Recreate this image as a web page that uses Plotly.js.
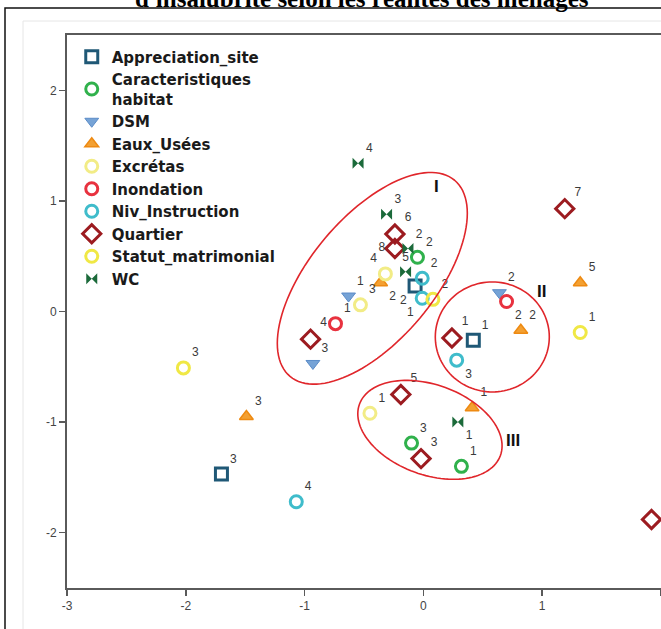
<!DOCTYPE html>
<html>
<head>
<meta charset="utf-8">
<script src="https://cdn.plot.ly/plotly-3.0.1.min.js"></script>
<style>html,body{margin:0;padding:0;background:#fff;}#chart{width:661px;height:629px;}</style>
</head>
<body>
<div id="chart"></div>
<script>
// ---- data ----
const appreciationX = [0.42, -0.07, -1.70];
const appreciationY = [-0.26, 0.23, -1.47];
const appreciationLbl = ["1", "2", "3"];

const habitatX = [-0.05, -0.10, 0.32];
const habitatY = [0.49, -1.19, -1.40];
const habitatLbl = ["2", "3", "1"];

const dsmX = [-0.63, -0.93, 0.64];
const dsmY = [0.14, -0.47, 0.17];
const dsmLbl = ["1", "3", "2"];

const eauxX = [-0.36, 0.82, 1.32, 0.41, -1.49];
const eauxY = [0.26, -0.17, 0.26, -0.87, -0.95];
const eauxLbl = ["2", "2", "5", "1", "3"];

const excretasX = [-0.32, -0.53, -0.45];
const excretasY = [0.34, 0.06, -0.92];
const excretasLbl = ["4", "3", "1"];

const inondationX = [-0.74, 0.70];
const inondationY = [-0.11, 0.09];
const inondationLbl = ["1", "2"];

const nivX = [-0.01, -0.01, 0.28, -1.07];
const nivY = [0.30, 0.12, -0.44, -1.72];
const nivLbl = ["2", "1", "3", "4"];

const quartierX = [-0.24, -0.24, -0.95, 0.24, -0.19, -0.02, 1.19, 1.92];
const quartierY = [0.70, 0.57, -0.25, -0.24, -0.75, -1.33, 0.93, -1.88];
const quartierLbl = ["6", "8", "4", "1", "5", "3", "7", "2"];

const statutX = [0.08, 1.32, -2.02];
const statutY = [0.11, -0.19, -0.51];
const statutLbl = ["2", "1", "3"];

const wcX = [-0.55, -0.31, -0.13, -0.15, 0.29];
const wcY = [1.34, 0.88, 0.57, 0.36, -1.00];
const wcLbl = ["4", "3", "2", "5", "1"];

const xTicks = [-3, -2, -1, 0, 1, 2];
const yTicks = [-2, -1, 0, 1, 2];

const groupNames = ["I", "II", "III"];
const groupLabelX = [0.11, 0.99, 0.75];
const groupLabelY = [1.13, 0.18, -1.17];

const titleText = "d'insalubrité selon les réalités des ménages";

// ---- styling / layout ----
const W = 661, H = 629;
const M = {l: 67, r: 0, t: 35, b: 41};
const xRange = [-3, 2], yRange = [-2.5, 2.5];
const kx = (W - M.l - M.r) / (xRange[1] - xRange[0]);
const ky = (H - M.t - M.b) / (yRange[1] - yRange[0]);

const labelFont = {family: "Arial, Liberation Sans, sans-serif", size: 12, color: "#3a3a3a"};

function series(name, xs, ys, lbl, marker, pos) {
  return {
    type: "scatter", mode: "markers+text", name: name,
    x: xs, y: ys, text: lbl, textposition: pos,
    textfont: labelFont, marker: marker, cliponaxis: false,
    hoverinfo: "name+text"
  };
}

const traces = [
  series("Appreciation_site", appreciationX, appreciationY, appreciationLbl,
    {symbol: "square-open", size: 12, color: "#1f5876", line: {width: 3}},
    ["top right", "bottom left", "top right"]),
  series("Caracteristiques<br>habitat", habitatX, habitatY, habitatLbl,
    {symbol: "circle-open", size: 12, color: "#30b14c", line: {width: 3}},
    ["top right", "top right", "top right"]),
  series("DSM", dsmX, dsmY, dsmLbl,
    {symbol: "triangle-down", size: 12, color: "#76a3d6", line: {width: 1, color: "#5b8cc8"}},
    ["top right", "top right", "top right"]),
  series("Eaux_Usées", eauxX, eauxY, eauxLbl,
    {symbol: "triangle-up", size: 12, color: "#f3a032", line: {width: 1.5, color: "#ee8a12"}},
    ["bottom right", "top right", "top right", "top right", "top right"]),
  series("Excrétas", excretasX, excretasY, excretasLbl,
    {symbol: "circle-open", size: 12, color: "#f2ec86", line: {width: 3}},
    ["top left", "top right", "top right"]),
  series("Inondation", inondationX, inondationY, inondationLbl,
    {symbol: "circle-open", size: 12, color: "#e8323f", line: {width: 3}},
    ["top right", "bottom right"]),
  series("Niv_Instruction", nivX, nivY, nivLbl,
    {symbol: "circle-open", size: 12, color: "#3fbccb", line: {width: 3}},
    ["top right", "bottom left", "bottom right", "top right"]),
  series("Quartier", quartierX, quartierY, quartierLbl,
    {symbol: "diamond-open", size: 14, color: "#9c1b20", line: {width: 3}},
    ["top right", "middle left", "top right", "top right", "top right", "top right", "top right", "top right"]),
  series("Statut_matrimonial", statutX, statutY, statutLbl,
    {symbol: "circle-open", size: 12, color: "#f0e845", line: {width: 3}},
    ["top right", "top right", "top right"]),
  series("WC", wcX, wcY, wcLbl,
    {symbol: "bowtie", size: 11, color: "#1b6a3a", line: {width: 0}},
    ["top right", "top right", "top right", "top center", "bottom right"])
];

// ellipse outlines (center in data units, semi-axes in px, angle in degrees)
const ellipses = [
  {cx: -0.43, cy: 0.30, a: 128, b: 62, ang: 50},
  {cx: 0.58, cy: -0.23, a: 57, b: 55, ang: 0},
  {cx: 0.055, cy: -1.07, a: 75, b: 45, ang: -20}
];
function ellipsePath(e) {
  const t = e.ang * Math.PI / 180;
  let p = "";
  for (let i = 0; i <= 120; i++) {
    const u = 2 * Math.PI * i / 120;
    const px = e.a * Math.cos(u) * Math.cos(t) - e.b * Math.sin(u) * Math.sin(t);
    const py = e.a * Math.cos(u) * Math.sin(t) + e.b * Math.sin(u) * Math.cos(t);
    const x = e.cx + px / kx, y = e.cy + py / ky;
    p += (i === 0 ? "M" : "L") + x.toFixed(4) + "," + y.toFixed(4);
  }
  return p + "Z";
}
const pxToPaperX = px => (px - M.l) / (W - M.l - M.r);
const pxToPaperY = py => (H - M.b - py) / (H - M.t - M.b);

const shapes = ellipses.map(e => ({
  type: "path", xref: "x", yref: "y", path: ellipsePath(e),
  line: {color: "#e0262b", width: 1.6}, layer: "above"
}));
// outer figure frame and faint inner panel
shapes.push({type: "rect", xref: "paper", yref: "paper",
  x0: pxToPaperX(23), x1: pxToPaperX(700), y0: pxToPaperY(700), y1: pxToPaperY(21),
  line: {color: "#e6e6e6", width: 1}, layer: "below"});
shapes.push({type: "rect", xref: "paper", yref: "paper",
  x0: pxToPaperX(5), x1: pxToPaperX(700), y0: pxToPaperY(700), y1: pxToPaperY(8),
  line: {color: "#111", width: 1.5}, layer: "below"});

const annotations = groupNames.map((g, i) => ({
  x: groupLabelX[i], y: groupLabelY[i], xref: "x", yref: "y", text: g,
  showarrow: false, font: {family: "Arial, Liberation Sans, sans-serif", size: 17, color: "#111", weight: "bold"}
}));
annotations.push({
  xref: "paper", yref: "paper", x: pxToPaperX(362), y: pxToPaperY(-2),
  xanchor: "center", yanchor: "middle", showarrow: false, text: titleText,
  font: {family: "Liberation Serif, Times New Roman, serif", size: 25, color: "#000", weight: "bold"}
});

const axisCommon = {
  showgrid: false, zeroline: false, showline: true, mirror: true,
  linecolor: "#5a5a5a", linewidth: 2, ticks: "outside", ticklen: 6,
  tickcolor: "#5a5a5a", tickwidth: 1.5,
  tickfont: {family: "Arial, Liberation Sans, sans-serif", size: 12, color: "#444"}
};

const layout = {
  width: W, height: H, margin: M,
  paper_bgcolor: "#fff", plot_bgcolor: "#fff",
  showlegend: true,
  legend: {
    x: 0.008, y: 0.99, xanchor: "left", yanchor: "top",
    bgcolor: "rgba(255,255,255,0)", borderwidth: 0, tracegroupgap: 0,
    font: {family: "DejaVu Sans, Verdana, sans-serif", size: 15, color: "#1a1a1a", weight: "bold"}
  },
  xaxis: Object.assign({}, axisCommon, {range: xRange, tickvals: xTicks, ticktext: xTicks.map(String)}),
  yaxis: Object.assign({}, axisCommon, {range: yRange, tickvals: yTicks, ticktext: yTicks.map(String)}),
  shapes: shapes, annotations: annotations
};

Plotly.newPlot("chart", traces, layout, {displayModeBar: false, staticPlot: true});
</script>
</body>
</html>
